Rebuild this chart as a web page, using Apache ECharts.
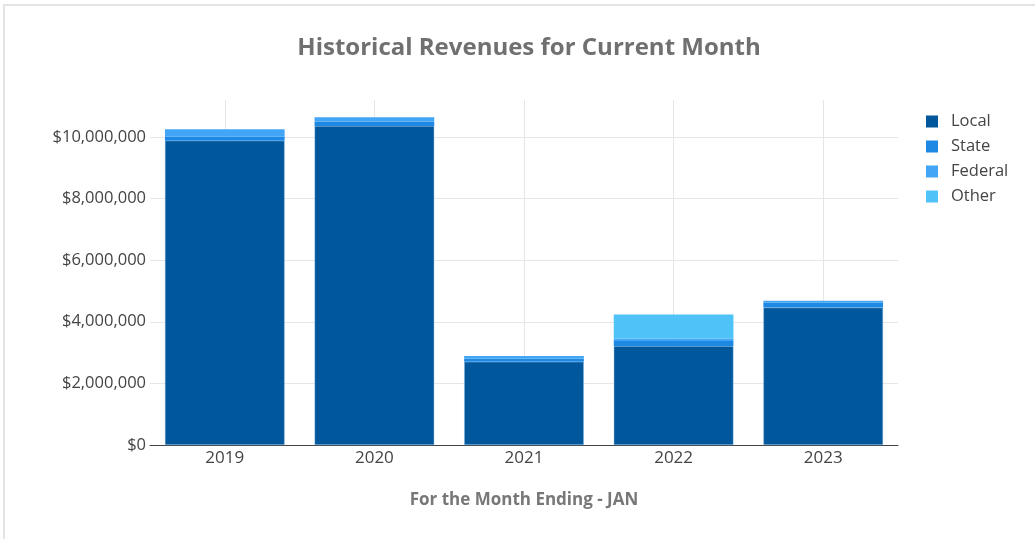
<!DOCTYPE html>
<html lang="en">
<head>
    <meta charset="UTF-8">
    <title>Historical Revenues</title>
    <script src="https://cdn.jsdelivr.net/npm/echarts@6/dist/echarts.min.js"></script>
</head>
<style type="text/css">
    body{
        margin:0;
        background:#fff;
    }
    #frame{
        position:absolute;
        left:3px;
        top:4px;
        width:1032px;
        height:535px;
        border-top:2px solid #e4e4e4;
        border-left:2px solid #e4e4e4;
    }
    #main{
        position:absolute;
        left:0;
        top:0;
        width:1035px;
        height:539px;
    }
</style>
<body>
<div id="frame"></div>
<div id="main"></div>
<script type="text/javascript">
    // 年份与各来源收入
    var years = ['2019', '2020', '2021', '2022', '2023'];
    var local = [9880000, 10360000, 2700000, 3210000, 4460000];
    var state = [130000, 140000, 110000, 170000, 160000];
    var federal = [240000, 140000, 80000, 80000, 65000];
    var other = [0, 0, 0, 780000, 0];

    var font = "'Open Sans', 'Noto Sans', sans-serif";

    var myChart = echarts.init(document.getElementById('main'));
    var option = {
        animation: false,
        textStyle: {fontFamily: font},
        title: {
            text: 'Historical Revenues for Current Month',
            left: 524, top: 31, textAlign: 'center',
            textStyle: {fontFamily: font, fontSize: 24, fontWeight: 'bold', color: '#707070'}
        },
        legend: {
            orient: 'vertical', left: 921, top: 108,
            icon: 'rect', itemWidth: 12, itemHeight: 12, itemGap: 8,
            itemStyle: {borderWidth: 0},
            textStyle: {fontFamily: font, fontSize: 16.5, color: '#444', padding: [0, 0, 0, 8]},
            data: ['Local', 'State', 'Federal', 'Other']
        },
        grid: {left: 150, right: 137, top: 100, bottom: 94},
        xAxis: [{
            type: 'category', data: years,
            axisLine: {lineStyle: {color: '#444', width: 1}},
            axisTick: {show: false},
            axisLabel: {fontFamily: font, fontSize: 17, color: '#444', margin: 5},
            name: 'For the Month Ending - JAN', nameLocation: 'middle', nameGap: 47,
            nameTextStyle: {fontFamily: font, fontSize: 17, fontWeight: 'bold', color: '#777'}
        }, {
            // 只用来画竖向网格线（落在柱子中间）
            type: 'value', min: 0, max: 10, interval: 1, position: 'bottom',
            axisLine: {show: false}, axisTick: {show: false}, axisLabel: {show: false},
            splitLine: {show: true, lineStyle: {color: ['rgba(0,0,0,0)', '#e6e6e6'], width: 1}}
        }],
        yAxis: {
            type: 'value', min: 0, max: 11200000, interval: 2000000,
            axisLine: {show: false}, axisTick: {show: false},
            axisLabel: {
                fontFamily: font, fontSize: 16.5, color: '#444', margin: 4, showMaxLabel: false,
                formatter: function (v) {
                    if (v % 2000000 !== 0) return '';
                    return '$' + v.toLocaleString('en-US');
                }
            },
            splitLine: {lineStyle: {color: '#e6e6e6'}, showMaxLine: false}
        },
        series: [
            {name: 'Local', type: 'bar', stack: 'rev', barWidth: '80%', data: local,
                itemStyle: {color: '#01579b', borderColor: 'rgba(150,200,240,0.8)', borderWidth: 0.5}},
            {name: 'State', type: 'bar', stack: 'rev', data: state,
                itemStyle: {color: '#1e88e5'}},
            {name: 'Federal', type: 'bar', stack: 'rev', data: federal,
                itemStyle: {color: '#42a5f5'}},
            {name: 'Other', type: 'bar', stack: 'rev', data: other,
                itemStyle: {color: '#4fc3f7'}}
        ]
    };
    myChart.setOption(option);
</script>
</body>
</html>
